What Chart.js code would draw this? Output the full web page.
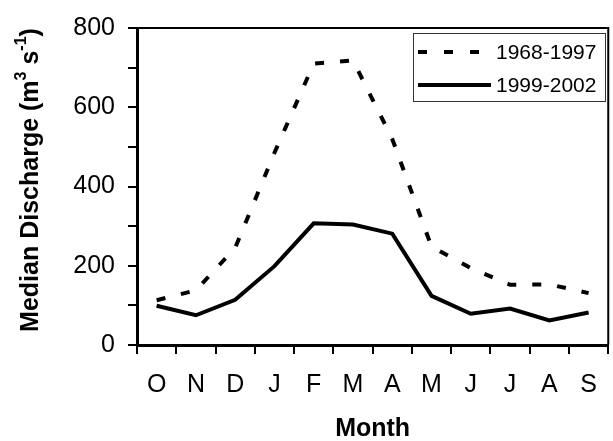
<!DOCTYPE html>
<html>
<head>
<meta charset="utf-8">
<script src="https://cdn.jsdelivr.net/npm/chart.js@4/dist/chart.umd.min.js"></script>
<style>
html, body { margin: 0; padding: 0; background: #fff; }
</style>
</head>
<body>
<canvas id="chart" width="613" height="441"></canvas>
<script>
// Median discharge by month, two periods
const months = ['O', 'N', 'D', 'J', 'F', 'M', 'A', 'M', 'J', 'J', 'A', 'S'];
const q1968 = [113, 138, 245, 485, 710, 718, 520, 248, 194, 152, 153, 131];
const q1999 = [99, 75, 114, 199, 307, 304, 281, 124, 79, 92, 62, 82];
const seriesLabels = ['1968-1997', '1999-2002'];

const FONT = "'Liberation Sans', Arial, sans-serif";

// plot frame (top + right edges)
const framePlugin = {
    id: 'frame',
    afterDraw(chart) {
        const { ctx, chartArea: a } = chart;
        ctx.save();
        ctx.strokeStyle = '#000';
        ctx.lineWidth = 2;
        ctx.beginPath();
        ctx.moveTo(a.left, a.top);
        ctx.lineTo(a.right, a.top);
        ctx.lineTo(a.right, a.bottom);
        ctx.stroke();
        ctx.restore();
    }
};

// boxed legend inside plot
const boxLegend = {
    id: 'boxLegend',
    afterDraw(chart) {
        const ctx = chart.ctx;
        ctx.save();
        ctx.strokeStyle = '#333';
        ctx.lineWidth = 1;
        ctx.strokeRect(413.5, 33.5, 192, 68);
        chart.data.datasets.forEach((ds, i) => {
            const y = 52 + i * 33;
            ctx.strokeStyle = '#000';
            ctx.lineWidth = ds.borderWidth;
            ctx.setLineDash(ds.borderDash ? [9, 17] : []);
            ctx.beginPath();
            ctx.moveTo(418, y);
            ctx.lineTo(ds.borderDash ? 480 : 491, y);
            ctx.stroke();
            ctx.setLineDash([]);
            ctx.fillStyle = '#000';
            ctx.font = '21px ' + FONT;
            ctx.textBaseline = 'middle';
            ctx.fillText(ds.label, 496, y + 1);
        });
        ctx.restore();
    }
};

// y title with superscripts
const yTitle = {
    id: 'yTitle',
    afterDraw(chart) {
        const ctx = chart.ctx;
        const parts = [
            ['Median Discharge (m', false],
            ['3', true],
            [' s', false],
            ['-1', true],
            [')', false]
        ];
        const big = 'bold 25px ' + FONT, small = 'bold 16px ' + FONT;
        let total = 0;
        parts.forEach(p => { ctx.font = p[1] ? small : big; total += ctx.measureText(p[0]).width; });
        ctx.save();
        ctx.translate(31, 180);
        ctx.rotate(-Math.PI / 2);
        ctx.fillStyle = '#000';
        ctx.textBaseline = 'middle';
        let x = -total / 2;
        parts.forEach(p => {
            ctx.font = p[1] ? small : big;
            ctx.fillText(p[0], x, p[1] ? -9 : 0);
            x += ctx.measureText(p[0]).width;
        });
        ctx.restore();
    }
};

new Chart(document.getElementById('chart'), {
    type: 'line',
    data: {
        labels: months,
        datasets: [
            { label: seriesLabels[0], data: q1968, borderColor: '#000', borderWidth: 4, borderDash: [9, 16], pointRadius: 0, tension: 0, borderCapStyle: 'butt', fill: false },
            { label: seriesLabels[1], data: q1999, borderColor: '#000', borderWidth: 4, pointRadius: 0, tension: 0, fill: false }
        ]
    },
    options: {
        responsive: false,
        animation: false,
        layout: { padding: { top: 23, right: 1, left: 0, bottom: 0 } },
        plugins: { legend: { display: false }, tooltip: { enabled: false } },
        scales: {
            x: {
                offset: true,
                grid: { offset: true, drawOnChartArea: false, drawTicks: true, tickLength: 9, color: '#000', lineWidth: 2 },
                border: { color: '#000', width: 3 },
                ticks: { color: '#000', font: { family: FONT, size: 25 }, padding: 16, maxRotation: 0, autoSkip: false },
                title: { display: true, text: 'Month', color: '#000', font: { family: FONT, size: 25, weight: 'bold' }, padding: { top: 0, bottom: -3 } },
                afterFit: s => { s.height = 96; }
            },
            y: {
                min: 0, max: 800,
                grid: { drawOnChartArea: false, drawTicks: true, tickLength: 9, color: '#000', lineWidth: 2 },
                border: { color: '#000', width: 3 },
                ticks: { stepSize: 100, color: '#000', font: { family: FONT, size: 25 }, padding: 13, callback: v => (v % 200 === 0 ? v : '') },
                afterFit: s => { s.width = 137; }
            }
        }
    },
    plugins: [framePlugin, boxLegend, yTitle]
});
</script>
</body>
</html>
